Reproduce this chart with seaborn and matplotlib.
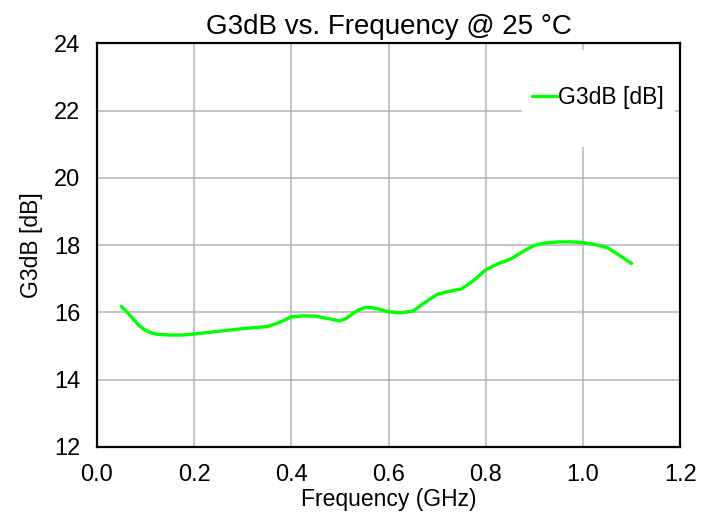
import matplotlib
matplotlib.use("Agg")
import matplotlib.pyplot as plt
from matplotlib.patches import Rectangle
import pandas as pd
import seaborn as sns

sns.set_style("white")
plt.rcParams['font.family'] = ['Liberation Sans', 'DejaVu Sans']
plt.rcParams['text.color'] = 'black'
plt.rcParams['axes.labelcolor'] = 'black'

frequency = [0.050, 0.0625, 0.075, 0.0875, 0.100, 0.1125, 0.125, 0.150, 0.175, 0.200,
             0.250, 0.300, 0.350, 0.375, 0.400, 0.425, 0.450, 0.475, 0.500, 0.5125,
             0.525, 0.5375, 0.550, 0.5625, 0.575, 0.600, 0.625, 0.650, 0.675, 0.700,
             0.725, 0.750, 0.775, 0.800, 0.825, 0.850, 0.875, 0.900, 0.925, 0.950,
             0.975, 1.000, 1.025, 1.050, 1.075, 1.100]
g3db = [16.18, 16.00, 15.80, 15.60, 15.47, 15.39, 15.35, 15.33, 15.33, 15.36,
        15.44, 15.52, 15.58, 15.70, 15.87, 15.90, 15.89, 15.82, 15.75, 15.82,
        15.95, 16.07, 16.14, 16.15, 16.12, 16.02, 15.99, 16.04, 16.30, 16.54,
        16.63, 16.70, 16.95, 17.27, 17.45, 17.58, 17.80, 18.00, 18.07, 18.10,
        18.10, 18.08, 18.02, 17.93, 17.70, 17.46]
series_name = "G3dB [dB]"

df = pd.DataFrame({"Frequency": frequency, "G3dB": g3db})

fig = plt.figure(figsize=(7.13, 5.17), dpi=100)
ax = fig.add_axes([0.136, 0.1354, 0.818, 0.7805])

sns.lineplot(data=df, x="Frequency", y="G3dB", ax=ax, color="#00ff00",
             linewidth=2.4, label=series_name, zorder=3,
             solid_joinstyle="round", solid_capstyle="round")

ax.set_xlim(0, 1.2)
ax.set_ylim(12, 24)
ax.set_xticks([0.0, 0.2, 0.4, 0.6, 0.8, 1.0, 1.2])
ax.set_xticklabels(["0.0", "0.2", "0.4", "0.6", "0.8", "1.0", "1.2"])
ax.set_yticks(range(12, 25, 2))
ax.grid(True, color="#b4b4b4", linewidth=1.1)
ax.set_axisbelow(True)
for s in ax.spines.values():
    s.set_color("black")
    s.set_linewidth(1.6)
ax.tick_params(length=0, labelsize=17, pad=12, colors="black")

ax.set_xlabel("Frequency (GHz)", fontsize=16.5, labelpad=2)
ax.set_ylabel("G3dB [dB]", fontsize=16.5, labelpad=8)
ax.set_title("G3dB vs. Frequency @ 25 °C", fontsize=20, pad=7)

# white box behind the legend, hiding the grid there
ax.add_patch(Rectangle((0.729, 0.743), 0.262, 0.241, transform=ax.transAxes,
                       facecolor="white", edgecolor="none", zorder=1.5))
ax.legend(loc="center left", bbox_to_anchor=(0.746, 0.867), frameon=False,
          fontsize=16.5, handlelength=1.1, handletextpad=0.05,
          borderpad=0, borderaxespad=0)

fig.savefig("out.png", dpi=100)
